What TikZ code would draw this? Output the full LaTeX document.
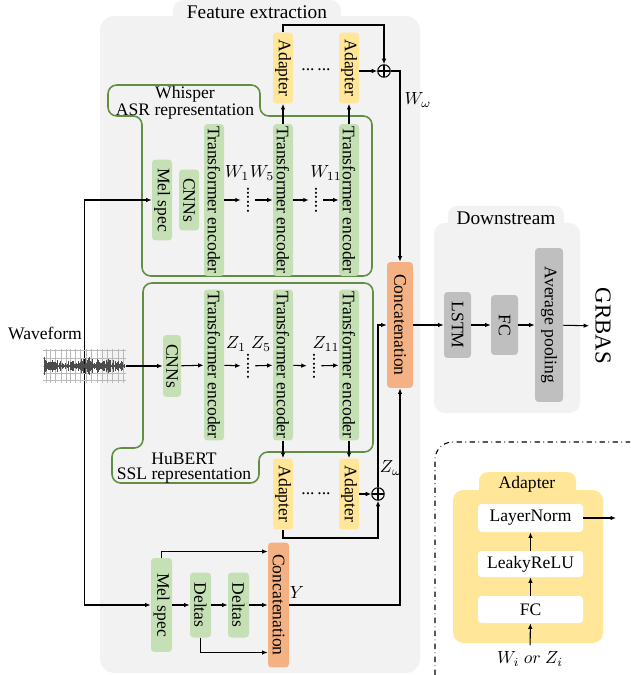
\documentclass[tikz,border=0pt]{standalone}
\usepackage{fontspec}
\setmainfont{Liberation Serif}
\usepackage{graphicx}
\usetikzlibrary{arrows.meta,calc}
\definecolor{EncGreen}{RGB}{197,224,180}
\definecolor{GrpGreen}{RGB}{96,143,66}
\definecolor{AdpYellow}{RGB}{255,230,153}
\definecolor{CatOrange}{RGB}{244,177,131}
\definecolor{DsGray}{RGB}{191,191,191}
\definecolor{PanelGray}{RGB}{242,242,242}
\newcommand{\vt}[1]{\rotatebox{-90}{#1}}

\begin{document}
\begin{tikzpicture}[x=0.02cm,y=-0.02cm,
  font=\fontsize{10}{12}\selectfont,
  blk/.style={rectangle,rounded corners=2pt,inner sep=0pt,minimum width=0.4cm},
  enc/.style={blk,fill=EncGreen},
  adp/.style={blk,fill=AdpYellow,minimum height=1.42cm},
  cat/.style={blk,fill=CatOrange},
  dsm/.style={blk,fill=DsGray,minimum width=0.54cm},
  lyr/.style={rectangle,rounded corners=2pt,fill=white,minimum width=2.1cm,inner sep=0pt},
  arr/.style={-{Latex[length=1.1mm,width=0.9mm]},line width=0.6pt},
  grp/.style={draw=GrpGreen,line width=0.9pt,rounded corners=5pt},
  ttl/.style={font=\fontsize{11}{13}\selectfont},
  lbl/.style={font=\fontsize{10}{8.6}\selectfont,align=center},
  psum/.style={circle,draw,line width=0.6pt,minimum size=0.25cm,inner sep=0pt,
    path picture={\draw[line width=0.6pt] (path picture bounding box.north) -- (path picture bounding box.south)
      (path picture bounding box.west) -- (path picture bounding box.east);}}
]
  \useasboundingbox (0,0) rectangle (630,675);

  % panels
  \fill[PanelGray,rounded corners=6pt] (173,0) rectangle (341,30);
  \fill[PanelGray,rounded corners=8pt] (100,16) rectangle (420,673);
  \node[ttl] (fe) at (257,12) {Feature extraction};
  \fill[PanelGray,rounded corners=5pt] (448,206) rectangle (564,240);
  \fill[PanelGray,rounded corners=6pt] (434,223) rectangle (580,413);
  \node[ttl] (ds) at (506,218) {Downstream};

  % green groups
  \draw[grp] (108,85) -- (260,85) -- (260,116) -- (372,116) -- (372,276) -- (142,276) -- (142,116) -- (108,116) -- cycle;
  \node[lbl] (wlab) at (185,103) {Whisper\\ASR representation};
  \draw[grp] (143,283) -- (373,283) -- (373,452) -- (259,452) -- (259,483) -- (112,483) -- (112,448) -- (143,448) -- cycle;
  \node[lbl] (hlab) at (184,468) {HuBERT\\SSL representation};

  % Whisper branch
  \node[enc,minimum height=1.62cm] (wmel) at (162,200) {\vt{Mel spec}};
  \node[enc,minimum height=1.22cm] (wcnn) at (189,200) {\vt{CNNs}};
  \node[enc,minimum height=3.04cm] (wte1) at (214,200) {\vt{Transformer encoder}};
  \node[enc,minimum height=3.04cm] (wte2) at (283,200) {\vt{Transformer encoder}};
  \node[enc,minimum height=3.04cm] (wte3) at (349,200) {\vt{Transformer encoder}};
  \node (wd1) at (248,200) {\rotatebox{90}{......}};
  \node (wd2) at (316,200) {\rotatebox{90}{......}};
  \node (lw1) at (237,173) {$W_1$};
  \node (lw5) at (262,173) {$W_5$};
  \node (lw11) at (326,173) {$W_{11}$};
  \node[adp] (wad1) at (283,68) {\vt{Adapter}};
  \node[adp] (wad2) at (349,68) {\vt{Adapter}};
  \node (wdots) at (316,70) {...\,...};
  \node[psum] (wplus) at (384,71) {};
  \node (lww) at (418,100) {$W_\omega$};

  % HuBERT branch
  \node[enc,minimum width=0.36cm,minimum height=1.24cm] (hcnn) at (172,366) {\vt{CNNs}};
  \node[enc,minimum height=3.02cm] (hte1) at (214,365) {\vt{Transformer encoder}};
  \node[enc,minimum height=3.02cm] (hte2) at (283,365) {\vt{Transformer encoder}};
  \node[enc,minimum height=3.02cm] (hte3) at (349,365) {\vt{Transformer encoder}};
  \node (hd1) at (248,366) {\rotatebox{90}{......}};
  \node (hd2) at (314,366) {\rotatebox{90}{......}};
  \node (lz1) at (236,344) {$Z_1$};
  \node (lz5) at (261,344) {$Z_5$};
  \node (lz11) at (326,344) {$Z_{11}$};
  \node[adp] (had1) at (283,494) {\vt{Adapter}};
  \node[adp] (had2) at (349,494) {\vt{Adapter}};
  \node (hdots) at (316,494) {...\,...};
  \node[psum] (hplus) at (378,494) {};
  \node (lzw) at (391,468) {$Z_\omega$};
  \coordinate (hbot) at (378,538);

  % acoustic branch
  \node[enc,minimum width=0.42cm,minimum height=1.88cm] (bmel) at (161.5,605) {\vt{Mel spec}};
  \node[enc,minimum width=0.42cm,minimum height=1.3cm] (bdel1) at (200.5,605) {\vt{Deltas}};
  \node[enc,minimum width=0.42cm,minimum height=1.3cm] (bdel2) at (238.5,605) {\vt{Deltas}};
  \node[cat,minimum width=0.42cm,minimum height=2.5cm] (cat2) at (278.5,605) {\vt{Concatenation}};
  \node (ly) at (297,592) {$Y$};

  \node[cat,minimum width=0.52cm,minimum height=2.52cm] (cat1) at (400,325) {\vt{Concatenation}};

  % downstream
  \node[dsm,minimum height=1.32cm] (lstm) at (457.5,325) {\vt{LSTM}};
  \node[dsm,minimum height=1.2cm] (fc) at (504.5,325) {\vt{FC}};
  \node[dsm,minimum width=0.56cm,minimum height=3.08cm] (avg) at (549,325) {\vt{Average pooling}};
  \node[font=\fontsize{13}{15}\selectfont] (grbas) at (603,326) {\vt{GRBAS}};

  % waveform input
  \node[minimum width=1.66cm,minimum height=0.68cm,inner sep=0pt] (wave) at (84.5,366) {};
  \node (wlbl) at (45,333) {Waveform};
  \draw[arr] (wave.center) |- (wmel);
  \draw[arr] (wave.center) |- (bmel);
  \foreach \yy in {350,358,366,373,380}
    \draw[gray!55,line width=0.4pt] (43,\yy) -- (126,\yy);
  \foreach \xx in {46,50,55,61,66,70,75,80,86,91,97,102,107,112,118,123}
    \draw[gray!55,line width=0.3pt] (\xx,349) -- (\xx,383);
  \pgfmathsetseed{11}
  \foreach \i in {0,...,160} {
    \pgfmathsetmacro\xx{44+\i*0.5}
    \pgfmathsetmacro\aa{(1.2+5.5*rnd^2)*(1+0.8*exp(-((\xx-88)/6)^2)+0.6*exp(-((\xx-46)/3)^2))}
    \draw[black!70,line width=0.3pt] (\xx,366-\aa) -- (\xx,366+\aa);
  }
  \draw[arr] (wave.east) -- (hcnn);

  % Whisper connections
  \draw[arr] (wte1) -- (wd1);
  \draw[arr] (wd1) -- (wte2);
  \draw[arr] (wte2) -- (wd2);
  \draw[arr] (wd2) -- (wte3);
  \draw[arr] (wte2) -- (wad1);
  \draw[arr] (wte3) -- (wad2);
  \draw[arr] (wad2.east |- wplus) -- (wplus);
  \coordinate (wtop) at (384,25);
  \draw[arr] (wad1) |- (wtop) -- (wplus);
  \draw[arr] (wplus) -| (cat1);

  % HuBERT connections
  \draw[arr] (hcnn) -- (hte1);
  \draw[arr] (hte1) -- (hd1);
  \draw[arr] (hd1) -- (hte2);
  \draw[arr] (hte2) -- (hd2);
  \draw[arr] (hd2) -- (hte3);
  \draw[arr] (hte2) -- (had1);
  \draw[arr] (hte3) -- (had2);
  \draw[arr] (had2) -- (hplus);
  \draw[arr] (had1) |- (hbot) -- (hplus);
  \draw[arr] (hplus) |- (cat1);

  % acoustic connections
  \draw[arr] (bmel) -- (bdel1);
  \draw[arr] (bdel1) -- (bdel2);
  \draw[arr] (bdel2) -- (cat2);
  \draw[arr] (bmel.north) |- ([yshift=1.07cm]cat2.west);
  \draw[arr] (bdel1.south) |- ([yshift=-0.95cm]cat2.west);
  \draw[arr] (cat2) -| (cat1);

  % downstream connections
  \draw[arr] (cat1) -- (lstm);
  \draw[arr] (lstm) -- (fc);
  \draw[arr] (fc) -- (avg);
  \draw[arr] (avg) -- (grbas);

  % adapter detail
  \draw[dash dot,line width=0.6pt,rounded corners=10pt] (435,675) -- (435,442) -- (630,442);
  \fill[AdpYellow,rounded corners=5pt] (479,472) rectangle (576,505);
  \fill[AdpYellow,rounded corners=6pt] (453,490) rectangle (603,643);
  \node (adt) at (527,484) {Adapter};
  \node[lyr,minimum height=0.56cm] (ln) at (530.5,518) {LayerNorm};
  \node[lyr,minimum height=0.52cm] (lr) at (530.5,564) {LeakyReLU};
  \node[lyr,minimum height=0.54cm] (lfc) at (530.5,609.5) {FC};
  \node (wz) at (530,659) {$W_i\ or\ Z_i$};
  \coordinate (lnout) at (616,518);
  \draw[arr] (wz) -- (lfc);
  \draw[arr] (lfc) -- (lr);
  \draw[arr] (lr) -- (ln);
  \draw[arr] (ln) -- (lnout);
\end{tikzpicture}
\end{document}
